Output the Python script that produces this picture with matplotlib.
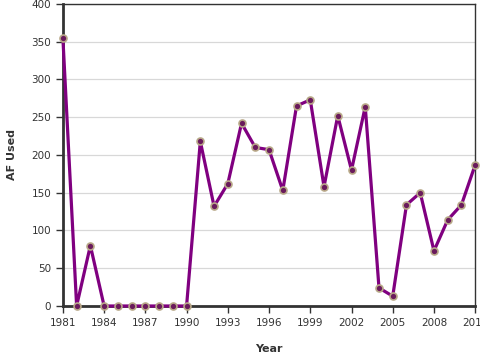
import matplotlib
matplotlib.use("Agg")
import matplotlib.pyplot as plt

# acre-feet used per year
years = list(range(1981, 2012))
af_used = [355, 0, 80, 0, 0, 0, 0, 0, 0, 0,
           218, 132, 162, 242, 210, 207, 153, 265, 273, 158,
           252, 180, 264, 24, 13, 134, 150, 73, 114, 134, 187]

x_ticks = list(range(1981, 2012, 3))
y_ticks = list(range(0, 401, 50))


def main():
    fig = plt.figure(figsize=(4.8, 3.6), dpi=100)
    ax = fig.add_axes([0.131, 0.15, 0.859, 0.839])

    ax.plot(years, af_used, color='#800080', lw=2.3, zorder=3, clip_on=False)
    ax.plot(years, af_used, ls='none', marker='o', ms=5,
            mfc='#6a1a5c', mec='#b8a888', mew=1.2, zorder=4, clip_on=False)

    ax.set_xlim(1981, 2011)
    ax.set_ylim(0, 400)
    ax.set_xticks(x_ticks)
    ax.set_yticks(y_ticks)
    ax.yaxis.grid(True, color='#d8d8d8', lw=0.9)
    ax.set_axisbelow(True)

    for s in ['left', 'bottom']:
        ax.spines[s].set_linewidth(2)
        ax.spines[s].set_color('#333333')
    for s in ['top', 'right']:
        ax.spines[s].set_linewidth(1)
        ax.spines[s].set_color('#333333')

    ax.tick_params(axis='both', labelsize=7.5, colors='#333333', length=5, width=1)

    ax.set_xlabel('Year', fontsize=8, fontweight='bold', color='#333333', labelpad=12)
    ax.set_ylabel('AF Used', fontsize=8, fontweight='bold', color='#333333', labelpad=10)

    fig.savefig('out.png', dpi=100)


if __name__ == "__main__":
    main()
